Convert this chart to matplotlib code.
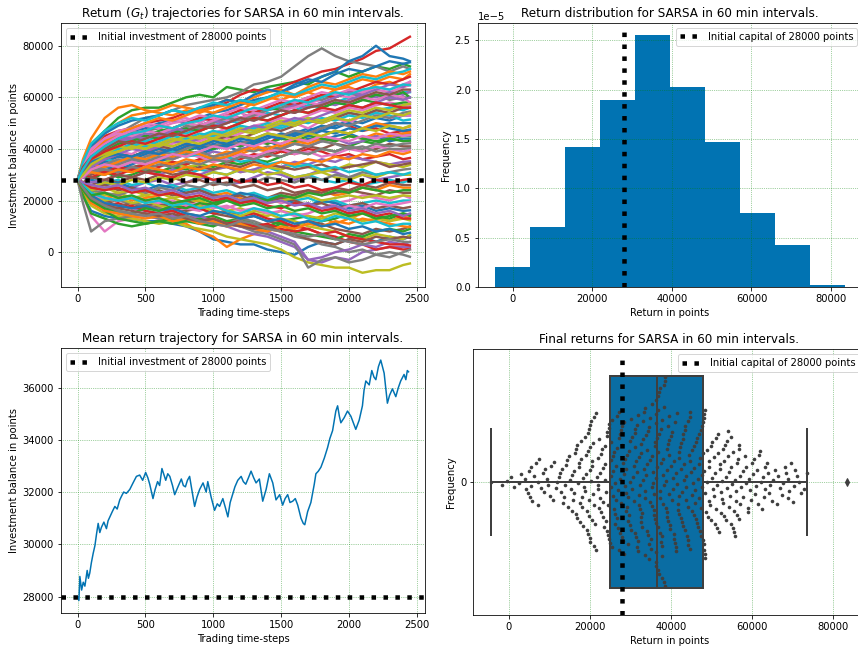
import matplotlib
matplotlib.use("Agg")
import matplotlib.pyplot as plt
import numpy as np
from matplotlib.lines import Line2D

INITIAL = 28000
BLUE = "#0173b2"
BOX_BLUE = "#0a6da3"
DARK = "#3f3f3f"

# time grid of the (sampled) trajectories
traj_steps = [0, 40, 100, 200, 300, 400, 500, 600, 700, 800, 900, 1000, 1100,
              1200, 1300, 1400, 1500, 1600, 1700, 1800, 1900, 2000, 2100, 2200,
              2300, 2400, 2450]

# balances in thousands of points
trajectories = [
    [28, 22, 16, 14, 13, 13, 12, 12, 11, 10, 8, 5, 4, 3, 3, 1, 0, -1, 2, 4, 3, 5, 6, 4, 6, 5, 6],
    [28, 25, 20, 17, 15, 14, 14, 13, 12, 11, 8, 6, 2, 5, 7, 9, 8, 10, 12, 14, 11, 13, 15, 14, 12, 14, 13],
    [28, 35, 42, 47, 52, 55, 56, 56, 58, 60, 61, 60, 64, 63, 62, 64, 65, 66, 65, 68, 70, 68, 70, 72, 71, 73, 72],
    [28, 34, 40, 45, 47, 48, 50, 51, 52, 54, 55, 56, 58, 61, 63, 62, 64, 66, 68, 70, 71, 73, 75, 78, 79, 82, 83.5],
    [28, 24, 20, 16, 15, 14, 14, 13, 14, 13, 12, 11, 10, 8, 7, 6, 4, 2, -3, -4, -2, -3, 0, 1, 2, 2, 2],
    [28, 26, 22, 20, 20, 19, 18, 19, 17, 16, 17, 15, 14, 13, 14, 12, 11, 10, 12, 11, 9, 8, 7, 9, 8, 9, 10],
    [28, 22, 14, 8, 12, 13, 14, 15, 16, 17, 16, 18, 17, 19, 20, 21, 19, 20, 18, 17, 19, 20, 22, 21, 20, 22, 21],
    [28, 33, 39, 44, 46, 49, 52, 53, 55, 57, 58, 59, 60, 62, 65, 66, 68, 72, 76, 79, 76, 74, 73, 72, 70, 72, 71],
    [28, 23, 18, 15, 14, 13, 12, 11, 12, 10, 9, 8, 6, 5, 4, 3, 1, -2, -4, -5, -6, -6, -8, -7, -7, -5, -4.4],
    [28, 29, 31, 30, 32, 33, 32, 31, 33, 30, 32, 31, 30, 32, 31, 33, 31, 29, 30, 28, 27, 28, 26, 27, 28, 27, 28],
    [28, 31, 34, 36, 35, 37, 38, 36, 37, 39, 38, 40, 41, 39, 42, 43, 41, 42, 44, 43, 45, 46, 44, 45, 43, 44, 44],
    [28, 36, 44, 52, 56, 57, 55, 54, 53, 55, 54, 56, 57, 55, 58, 60, 59, 61, 62, 60, 63, 64, 62, 65, 66, 64, 65],
    [28, 22, 15, 13, 11, 10, 11, 12, 13, 12, 11, 10, 12, 13, 11, 10, 12, 13, 14, 12, 13, 15, 16, 14, 13, 15, 14],
    [28, 30, 33, 36, 38, 37, 39, 40, 38, 41, 42, 44, 43, 45, 44, 42, 45, 47, 46, 48, 50, 49, 47, 48, 46, 47, 47],
    [28, 27, 25, 24, 26, 25, 27, 28, 26, 27, 29, 28, 26, 27, 29, 31, 30, 28, 30, 32, 31, 29, 30, 28, 29, 30, 30],
    [28, 29, 30, 32, 31, 33, 34, 35, 33, 34, 36, 35, 37, 38, 36, 38, 40, 39, 41, 40, 42, 41, 39, 40, 42, 41, 41],
    [28, 31, 35, 39, 41, 40, 42, 44, 43, 45, 44, 46, 48, 47, 49, 50, 52, 51, 53, 55, 54, 56, 55, 57, 58, 57, 57],
    [28, 19, 8, 12, 13, 14, 15, 13, 14, 15, 14, 12, 11, 13, 12, 10, 8, 6, 5, 3, 2, 0, 1, -1, 0, -1, -1.8],
    [28, 26, 24, 22, 23, 21, 22, 20, 21, 19, 20, 18, 16, 17, 15, 14, 16, 15, 14, 13, 15, 14, 12, 13, 12, 13, 12.3],
    [28, 32, 37, 40, 42, 44, 43, 45, 47, 46, 48, 49, 51, 50, 52, 54, 53, 55, 57, 56, 58, 60, 59, 61, 60, 62, 62],
    [28, 33, 38, 43, 45, 47, 48, 50, 51, 50, 52, 54, 55, 57, 59, 60, 62, 64, 66, 68, 70, 74, 76, 80, 76, 75, 74],
    [28, 25, 23, 21, 22, 20, 21, 22, 23, 21, 20, 22, 23, 21, 19, 20, 22, 21, 23, 24, 22, 23, 25, 24, 26, 25, 25],
    [28, 30, 28, 31, 29, 30, 32, 31, 33, 32, 34, 33, 35, 34, 36, 35, 37, 39, 38, 40, 39, 41, 43, 42, 44, 45, 45],
    [28, 24, 20, 18, 19, 17, 18, 17, 16, 18, 17, 15, 16, 14, 15, 13, 12, 10, 9, 7, 6, 4, 3, 1, 2, 1, 1.2],
    [28, 31, 33, 35, 34, 36, 35, 37, 36, 38, 37, 39, 38, 40, 41, 39, 40, 42, 41, 43, 44, 42, 43, 45, 44, 46, 46],
    [28, 25, 22, 20, 18, 19, 17, 18, 19, 20, 18, 19, 21, 20, 22, 21, 23, 22, 24, 23, 25, 24, 26, 25, 27, 26, 26],
    [28, 33, 39, 44, 47, 48, 50, 49, 51, 52, 50, 53, 51, 54, 52, 55, 57, 56, 58, 59, 61, 60, 62, 63, 62, 64, 64.7],
    [28, 26, 23, 21, 20, 19, 18, 17, 16, 14, 13, 12, 11, 10, 8, 7, 5, 3, -6, -3, -2, -4, -3, -1, -2, 0, 1],
    [28, 30, 32, 34, 33, 35, 34, 36, 35, 33, 34, 32, 33, 31, 32, 30, 31, 29, 30, 31, 29, 28, 30, 29, 31, 30, 30],
    [28, 30, 29, 27, 28, 26, 27, 25, 26, 24, 25, 23, 24, 22, 23, 21, 22, 20, 21, 19, 20, 18, 19, 20, 19, 20, 20],
    [28, 29, 31, 33, 32, 34, 36, 35, 37, 39, 38, 40, 42, 41, 43, 45, 44, 46, 48, 47, 49, 51, 50, 52, 51, 53, 53],
    [28, 34, 40, 46, 50, 53, 54, 55, 57, 56, 55, 57, 59, 58, 60, 62, 63, 61, 64, 66, 65, 67, 69, 68, 70, 69, 70],
    [28, 26, 21, 16, 13, 12, 11, 12, 11, 12, 13, 14, 12, 11, 10, 9, 11, 8, 7, 6, 5, 7, 6, 8, 9, 8, 9],
    [28, 30, 32, 31, 33, 32, 34, 33, 35, 34, 36, 37, 35, 36, 38, 37, 39, 38, 40, 39, 37, 38, 36, 37, 38, 36, 36.5],
    [28, 25, 21, 19, 18, 17, 16, 15, 14, 13, 14, 12, 11, 10, 9, 8, 6, 4, -3, -2, 0, 1, 3, 2, 4, 3, 4],
    [28, 27, 26, 28, 27, 29, 28, 30, 29, 27, 28, 26, 27, 25, 26, 24, 25, 23, 24, 22, 23, 24, 23, 22, 24, 23, 23],
    [28, 31, 34, 37, 39, 38, 41, 40, 42, 44, 43, 45, 44, 46, 48, 47, 49, 50, 48, 51, 52, 50, 53, 54, 52, 53, 52.9],
    [28, 32, 36, 40, 43, 45, 47, 48, 46, 49, 48, 50, 52, 51, 53, 55, 56, 58, 60, 59, 61, 62, 60, 61, 59, 60, 60],
    [28, 25, 22, 20, 21, 19, 20, 18, 17, 19, 18, 16, 15, 14, 16, 15, 13, 12, 10, 9, 8, 6, 5, 7, 6, 5, 6.6],
    [28, 33, 37, 39, 40, 41, 43, 42, 44, 43, 45, 47, 46, 48, 47, 49, 48, 50, 52, 51, 53, 54, 53, 55, 56, 55, 56],
    [28, 27, 28, 26, 27, 25, 24, 26, 25, 23, 24, 22, 21, 23, 22, 20, 21, 19, 18, 20, 19, 17, 18, 16, 17, 16, 16.2],
    [28, 29, 31, 30, 32, 31, 33, 35, 34, 36, 35, 37, 39, 38, 40, 39, 41, 43, 42, 44, 43, 45, 44, 46, 45, 46, 46.4],
    [28, 31, 34, 36, 38, 37, 39, 38, 40, 39, 41, 40, 42, 41, 43, 42, 44, 43, 45, 44, 43, 45, 44, 43, 44, 43, 43.2],
    [28, 24, 20, 18, 17, 18, 16, 15, 16, 14, 12, 13, 11, 12, 10, 11, 9, 8, 9, 7, 8, 6, 5, 4, 3, 3, 2.6],
    [28, 29, 27, 28, 30, 29, 31, 30, 32, 31, 30, 32, 33, 31, 32, 34, 33, 35, 34, 36, 35, 37, 36, 35, 34, 35, 35.2],
    [28, 27, 25, 26, 24, 25, 23, 24, 22, 23, 24, 22, 21, 22, 20, 19, 21, 20, 18, 19, 17, 18, 19, 17, 18, 17, 17.5],
    [28, 30, 33, 35, 37, 36, 38, 37, 36, 38, 37, 35, 36, 38, 37, 39, 40, 38, 39, 37, 38, 40, 39, 41, 40, 39, 39.6],
    [28, 26, 24, 23, 22, 24, 23, 25, 24, 26, 25, 27, 26, 28, 27, 29, 28, 27, 29, 28, 30, 29, 31, 30, 31, 32, 32.3],
    [28, 27, 25, 27, 26, 28, 27, 29, 28, 30, 29, 31, 30, 32, 31, 33, 32, 34, 33, 31, 32, 34, 33, 35, 34, 33, 33.8],
    [28, 32, 35, 38, 40, 42, 41, 43, 45, 44, 46, 45, 47, 49, 48, 50, 49, 51, 50, 52, 51, 53, 52, 54, 53, 51, 51.4],
    [28, 31, 33, 35, 37, 36, 38, 40, 39, 41, 40, 42, 41, 43, 42, 44, 46, 45, 47, 49, 48, 50, 48, 49, 50, 50, 50],
    [28, 24, 19, 16, 15, 14, 13, 14, 12, 13, 11, 12, 10, 11, 9, 8, 10, 9, 11, 10, 12, 11, 13, 12, 11, 10, 9.7],
    [28, 33, 38, 42, 44, 46, 45, 47, 48, 50, 49, 51, 53, 52, 54, 56, 55, 57, 58, 56, 58, 57, 59, 58, 57, 58, 58],
    [28, 30, 29, 31, 30, 32, 31, 30, 29, 31, 30, 28, 29, 27, 28, 26, 27, 25, 26, 24, 25, 27, 26, 28, 27, 28, 28.4],
    [28, 33, 38, 41, 43, 44, 46, 45, 47, 48, 47, 49, 50, 52, 51, 53, 55, 54, 56, 58, 57, 59, 61, 60, 62, 61, 62.2],
    [28, 27, 29, 28, 30, 29, 31, 32, 30, 31, 33, 32, 34, 33, 35, 34, 33, 32, 33, 34, 32, 33, 34, 35, 33, 34, 34.5],
    [28, 25, 22, 21, 20, 21, 20, 19, 20, 18, 19, 17, 18, 16, 17, 15, 16, 14, 15, 17, 16, 18, 17, 19, 18, 19, 19.5],
    [28, 30, 31, 33, 34, 36, 35, 37, 36, 38, 39, 37, 38, 40, 39, 41, 40, 42, 41, 43, 42, 40, 41, 39, 40, 40, 40.4],
    [28, 26, 24, 25, 23, 24, 22, 23, 21, 22, 20, 21, 22, 20, 21, 19, 20, 21, 22, 20, 21, 22, 21, 22, 21, 22, 21.8],
    [28, 31, 34, 36, 35, 37, 36, 38, 39, 37, 38, 36, 37, 35, 36, 34, 35, 33, 34, 32, 33, 31, 32, 30, 31, 30, 30.8],
    [28, 34, 41, 46, 49, 51, 52, 53, 55, 54, 56, 57, 59, 58, 61, 63, 62, 65, 67, 66, 69, 71, 70, 72, 74, 73, 73.6],
    [28, 32, 38, 43, 46, 48, 50, 52, 51, 53, 55, 54, 56, 58, 57, 59, 61, 60, 62, 64, 63, 65, 67, 66, 68, 67, 69],
    [28, 30, 35, 39, 42, 43, 45, 44, 46, 48, 47, 49, 48, 50, 52, 51, 53, 55, 54, 56, 58, 57, 59, 61, 60, 62, 60],
    [28, 33, 37, 42, 44, 46, 47, 49, 48, 50, 52, 51, 53, 55, 54, 56, 58, 57, 59, 61, 60, 62, 64, 66, 65, 67, 68],
    [28, 31, 36, 40, 43, 45, 44, 46, 48, 47, 49, 51, 50, 52, 54, 53, 55, 57, 56, 58, 60, 62, 61, 63, 65, 64, 66],
    [28, 29, 33, 36, 38, 37, 39, 41, 40, 42, 41, 43, 45, 44, 46, 48, 47, 49, 51, 50, 52, 54, 53, 55, 54, 56, 56],
    [28, 34, 40, 44, 46, 45, 47, 46, 48, 50, 49, 51, 53, 52, 54, 53, 55, 56, 58, 57, 59, 58, 60, 59, 61, 60, 58],
    [28, 30, 32, 34, 36, 35, 37, 39, 38, 40, 42, 41, 43, 42, 44, 46, 45, 47, 46, 48, 50, 49, 51, 53, 52, 54, 54.5],
    [28, 32, 36, 38, 39, 41, 40, 42, 44, 43, 45, 44, 46, 48, 47, 49, 51, 50, 52, 51, 53, 55, 54, 56, 55, 57, 57.5],
    [28, 35, 42, 47, 50, 52, 51, 53, 55, 54, 56, 58, 57, 59, 58, 60, 62, 61, 63, 65, 64, 66, 68, 67, 69, 70, 71],
    [28, 26, 22, 19, 18, 17, 18, 16, 17, 15, 14, 16, 15, 13, 14, 12, 13, 11, 12, 10, 11, 9, 10, 8, 9, 7, 7.5],
    [28, 31, 34, 33, 35, 37, 36, 38, 37, 39, 38, 36, 37, 39, 41, 40, 42, 44, 43, 45, 47, 46, 48, 50, 49, 48, 48.7],
    [28, 24, 20, 17, 16, 15, 17, 16, 18, 17, 19, 18, 20, 19, 21, 20, 22, 21, 23, 22, 24, 23, 25, 24, 23, 24, 24],
    [28, 27, 25, 24, 25, 23, 24, 22, 23, 21, 22, 20, 21, 19, 20, 18, 17, 19, 18, 16, 17, 15, 16, 14, 15, 13, 13],
    [28, 30, 33, 36, 38, 40, 39, 41, 43, 42, 44, 46, 45, 47, 49, 48, 50, 52, 51, 53, 55, 57, 56, 58, 60, 59, 60],
    [28, 25, 21, 18, 17, 16, 15, 14, 15, 13, 12, 13, 11, 10, 9, 10, 8, 7, 5, 4, 3, 5, 4, 6, 5, 6, 5.5],
    [28, 33, 38, 42, 45, 47, 49, 48, 50, 51, 53, 52, 54, 56, 55, 57, 59, 58, 60, 62, 61, 63, 62, 64, 63, 65, 66],
    [28, 29, 31, 32, 31, 33, 32, 34, 33, 35, 34, 36, 35, 37, 36, 38, 37, 39, 38, 40, 39, 41, 40, 42, 41, 42, 42.2],
    [28, 31, 35, 38, 41, 40, 42, 41, 43, 45, 44, 46, 45, 47, 46, 48, 50, 49, 51, 50, 52, 51, 53, 52, 54, 53, 54],
    [28, 26, 23, 21, 20, 21, 19, 20, 18, 19, 17, 18, 16, 15, 17, 16, 14, 15, 13, 12, 14, 13, 11, 12, 10, 11, 11],
    [28, 31, 35, 37, 38, 37, 39, 38, 40, 42, 41, 43, 42, 44, 43, 45, 44, 46, 45, 47, 46, 48, 47, 49, 48, 47, 47.5],
    [28, 30, 31, 30, 32, 31, 33, 32, 31, 33, 32, 34, 33, 32, 34, 33, 35, 34, 36, 35, 37, 36, 38, 37, 39, 38, 38.8],
    [28, 25, 22, 23, 21, 22, 20, 21, 19, 20, 21, 19, 20, 18, 19, 17, 18, 16, 17, 15, 16, 14, 15, 13, 14, 15, 14.5],
    [28, 32, 36, 39, 41, 43, 42, 44, 46, 45, 47, 49, 48, 50, 52, 51, 53, 55, 54, 56, 55, 57, 56, 58, 57, 56, 56],
    [28, 27, 26, 25, 26, 24, 25, 23, 24, 22, 23, 21, 22, 20, 21, 19, 20, 18, 19, 17, 18, 16, 17, 15, 16, 14, 15],
    [28, 33, 37, 40, 43, 42, 44, 46, 45, 47, 49, 48, 50, 52, 51, 53, 55, 54, 56, 57, 59, 58, 60, 62, 61, 63, 63],
    [28, 29, 32, 34, 33, 35, 34, 36, 38, 37, 39, 41, 40, 42, 41, 43, 42, 44, 43, 45, 44, 43, 45, 44, 46, 45, 45.3],
    [28, 25, 21, 18, 16, 15, 14, 15, 13, 14, 12, 11, 10, 12, 11, 9, 8, 7, 6, 7, 5, 4, 3, 4, 5, 4, 3.9],
    [28, 30, 34, 37, 39, 41, 40, 42, 41, 43, 42, 44, 43, 45, 44, 46, 45, 44, 46, 45, 47, 46, 48, 47, 49, 48, 49],
    [28, 32, 37, 41, 44, 46, 47, 49, 48, 50, 51, 53, 52, 54, 56, 55, 57, 59, 58, 60, 62, 61, 63, 64, 63, 65, 64.7],
]

# mean return trajectory (bottom-left panel)
mean_steps = [0, 10, 17, 30, 42, 54, 71, 80, 90, 102, 115, 128, 140, 152, 164,
              176, 194, 213, 225, 238, 256, 275, 292, 311, 325, 340, 360, 385,
              409, 434, 458, 480, 502, 518, 532, 556, 572, 590, 605, 622, 650,
              665, 680, 700, 716, 740, 765, 780, 795, 810, 826, 845, 863, 880,
              900, 925, 948, 960, 985, 1010, 1030, 1047, 1071, 1090, 1108, 1125,
              1145, 1160, 1181, 1206, 1222, 1240, 1260, 1279, 1298, 1316, 1340,
              1365, 1390, 1414, 1439, 1463, 1490, 1512, 1530, 1549, 1566, 1586,
              1605, 1623, 1647, 1664, 1675, 1696, 1720, 1745, 1757, 1775, 1794,
              1819, 1843, 1860, 1880, 1904, 1917, 1930, 1941, 1966, 1990, 2015,
              2033, 2051, 2076, 2100, 2112, 2125, 2150, 2169, 2185, 2199, 2218,
              2235, 2260, 2284, 2300, 2321, 2346, 2365, 2382, 2407, 2420, 2431,
              2440]
mean_values = [28000, 27850, 28770, 28250, 28550, 28400, 29000, 28700, 28900,
               29300, 29650, 29950, 30400, 30800, 30450, 30650, 30850, 30600,
               30900, 31050, 31250, 31450, 31350, 31700, 31850, 32000, 31950,
               32100, 32350, 32600, 32650, 32450, 32750, 32550, 32300, 31750,
               32100, 32400, 32250, 32900, 32450, 32700, 32600, 32250, 31900,
               32200, 32500, 32250, 32200, 32450, 32600, 32000, 31450, 31800,
               32100, 32350, 32000, 32400, 31800, 31300, 31550, 31450, 31750,
               31400, 31050, 31600, 31950, 32200, 32450, 32600, 32400, 32300,
               32550, 32800, 32550, 32350, 32500, 31650, 32100, 32700, 32350,
               31700, 31900, 31500, 31750, 31900, 31600, 31650, 31750, 31500,
               31000, 30800, 30750, 31250, 31600, 32300, 32700, 32800, 32950,
               33300, 33700, 34050, 34350, 35100, 35300, 34900, 34650, 34850,
               35100, 34900, 34650, 34400, 34750, 35300, 35900, 36250, 36100,
               36650, 36400, 36300, 36800, 37050, 36550, 35400, 35700, 35950,
               35650, 36000, 36250, 36500, 36300, 36650, 36600]

# final returns of all episodes, in hundreds of points
final_returns = [
    -44, -18, -5, 6, 12, 26, 31, 39, 42,
    46, 49, 52, 55, 55, 58, 63, 66, 71, 72, 74, 80, 83, 87, 88, 93, 97, 101,
    104, 110, 111, 116, 119, 123, 126, 128, 131,
    133, 136, 138, 141, 144, 145, 148, 151, 153, 155, 156, 158, 160, 161, 163,
    165, 166, 168, 169, 171, 172, 173, 175, 176, 178, 179, 180, 181, 183, 184,
    186, 187, 188, 190, 191, 192, 193, 194, 195, 196, 197, 197, 198, 199, 199,
    200, 200, 201, 202, 203, 204, 205, 206, 207, 208, 209, 210, 211, 213, 214,
    215, 217, 219,
    220, 221, 222, 223, 224, 226, 227, 228, 229, 231, 232, 233, 234, 236, 237,
    238, 239, 240, 241, 242, 243, 244, 245, 246, 247, 248, 249,
    251, 252, 253, 253, 254, 255, 256, 257, 258, 259, 260, 261, 262, 263, 264,
    265, 266, 267, 268, 269, 270, 271, 272, 272, 273, 274, 275, 276, 277, 278,
    279, 280, 281, 282, 283, 284, 285, 286, 287, 288, 289, 290, 291, 292, 293,
    294, 295, 296, 297, 298, 299, 300, 301, 302, 303, 305, 307,
    308, 309, 310, 311, 311, 312, 313, 314, 315, 316, 317, 318, 318, 319, 320,
    321, 322, 323, 324, 325, 326, 327, 327, 328, 329, 330, 331, 332, 333, 334,
    335, 336, 336, 337, 338, 339, 340, 341, 342, 343, 344, 345, 345, 346, 347,
    348, 349, 350, 351, 352, 353, 354, 354, 355, 356, 357, 358, 359, 360, 361,
    361, 362, 362, 363, 363, 364, 364, 364, 364,
    366, 366, 367, 367, 368, 369, 369, 370, 371, 371, 372, 373, 373, 374, 375,
    375, 376, 377, 377, 378, 379, 379, 380, 381, 381, 382, 383, 384, 384, 385,
    386, 386, 387, 388, 389, 389, 390, 391, 392, 392, 393, 394, 394, 395,
    396, 397, 397, 399, 401, 402, 402, 404, 405, 407, 408, 408, 409, 411, 412,
    413, 413, 414, 416, 418, 418, 419, 420, 420, 421, 423, 424, 424, 425, 427,
    428, 429, 429, 430, 432, 433, 434, 434, 435, 437, 438, 438, 440, 441, 442,
    443, 443, 445, 446, 447, 448, 448, 450, 451, 452, 453, 455, 456, 457, 457,
    459, 460, 461, 462, 463, 465, 466, 467, 468, 469, 470, 471, 472, 473, 474,
    475, 476, 476, 477, 479, 479, 479, 481, 481, 482, 482, 482, 483, 483, 483,
    485, 487, 488, 490, 491, 493, 494, 495, 497, 498, 500, 501, 502, 504, 505,
    506, 508, 509, 510, 512, 513, 514, 516, 517, 518, 520, 521, 523, 524, 525,
    527, 528, 529, 531, 532, 533, 535, 536, 538, 539, 540, 541, 543, 544, 545,
    547, 548, 549, 551, 552, 553, 555, 556, 557, 559, 560, 561, 563, 564, 566,
    567, 568, 569, 570, 571,
    574, 577, 579, 582, 584, 586, 589, 591, 593, 596, 598, 601, 603, 605, 607,
    610, 612, 614, 617, 619, 621, 624, 626, 629, 631, 633, 636, 639, 642, 645,
    649, 653, 657,
    661, 665, 669, 673, 677, 681, 685, 688, 689, 692, 696, 700, 703, 707, 711,
    716, 722, 729, 736,
    835,
]


def beeswarm(xs, sx, sy):
    # simple swarm layout: ellipse collision, sx/sy are the spacing in pixels
    order = np.argsort(xs, kind="stable")
    px, py = [], []
    offs = np.zeros(len(xs))
    for i in order:
        x = xs[i]
        best = 0.0
        if px:
            ax_ = np.array(px)
            ay_ = np.array(py)
            dx = (ax_ - x) / sx
            near = np.abs(dx) < 1
            dxn, yn = dx[near], ay_[near]
            cands = [0.0]
            for a, b in zip(dxn, yn):
                h = np.sqrt(1 - a * a) * sy
                cands += [b + h, b - h]
            cands.sort(key=abs)
            for c in cands:
                if np.all(dxn ** 2 + ((yn - c) / sy) ** 2 >= 0.999):
                    best = c
                    break
        offs[i] = best
        px.append(x)
        py.append(best)
    return offs


def style_axes(ax):
    ax.grid(True, color="green", linestyle=":", linewidth=0.7, alpha=0.7)


def init_handle():
    return Line2D([], [], color="black", linestyle=":", linewidth=4.5)


W, H = 858, 646
fig = plt.figure(figsize=(W / 72, H / 72), dpi=72)

# top-left: all trajectories
ax0 = fig.add_axes([0.0711, 0.5562, 0.4242, 0.4077])
steps = np.array(traj_steps)
for tr in trajectories:
    ax0.plot(steps, np.array(tr) * 1000, linewidth=2.4)
ax0.axhline(INITIAL, color="black", linestyle=":", linewidth=4.5)
ax0.set_xlim(-122, 2561)
ax0.set_ylim(-13400, 88700)
ax0.set_title(r"Return ($G_t$) trajectories for SARSA in 60 min intervals.")
ax0.set_xlabel("Trading time-steps")
ax0.set_ylabel("Investment balance in points")
ax0.legend([init_handle()], ["Initial investment of 28000 points"], loc="upper left")
style_axes(ax0)

# top-right: histogram of final returns
finals = np.array(final_returns) * 100.0
ax1 = fig.add_axes([0.5568, 0.5557, 0.4484, 0.4092])
ax1.hist(finals, bins=10, density=True, color=BLUE)
ax1.axvline(INITIAL, ymax=0.965, color="black", linestyle=":", linewidth=4.5)
ax1.set_title("Return distribution for SARSA in 60 min intervals.")
ax1.set_xlabel("Return in points")
ax1.set_ylabel("Frequency")
ax1.legend([init_handle()], ["Initial capital of 28000 points"], loc="upper right")
style_axes(ax1)

# bottom-left: mean trajectory
ax2 = fig.add_axes([0.0711, 0.0506, 0.4242, 0.4102])
ax2.plot(mean_steps, mean_values, color=BLUE, linewidth=1.5)
ax2.axhline(INITIAL, color="black", linestyle=":", linewidth=4.5)
ax2.set_xlim(-122, 2561)
ax2.set_ylim(27360, 37500)
ax2.set_title("Mean return trajectory for SARSA in 60 min intervals.")
ax2.set_xlabel("Trading time-steps")
ax2.set_ylabel("Investment balance in points")
ax2.legend([init_handle()], ["Initial investment of 28000 points"], loc="upper left")
style_axes(ax2)

# bottom-right: box + swarm of final returns
ax3 = fig.add_axes([0.5516, 0.048, 0.4566, 0.4113])
ax3.boxplot(finals, vert=False, positions=[0], widths=0.8, patch_artist=True,
            boxprops=dict(facecolor=BOX_BLUE, edgecolor=DARK, linewidth=2),
            medianprops=dict(color=DARK, linewidth=2),
            whiskerprops=dict(color=DARK, linewidth=2),
            capprops=dict(color=DARK, linewidth=2),
            flierprops=dict(marker="d", markerfacecolor=DARK, markeredgecolor=DARK,
                            markersize=5))
ax3.set_xlim(-8800, 87900)
ax3.set_ylim(0.5, -0.5)
fig.canvas.draw()
bbox = ax3.get_window_extent()
px_per_x = bbox.width / (87900 + 8800)
px_per_y = bbox.height
offs = beeswarm(finals * px_per_x, 14.5, 4.0)
ax3.scatter(finals, offs / px_per_y, s=13, color=DARK, zorder=3, linewidths=0)
ax3.axvline(INITIAL, ymax=0.96, color="black", linestyle=":", linewidth=4.5, zorder=4)
ax3.set_yticks([0])
ax3.set_yticklabels(["0"])
ax3.set_title("Final returns for SARSA in 60 min intervals.")
ax3.set_xlabel("Return in points")
ax3.set_ylabel("Frequency")
ax3.legend([init_handle()], ["Initial capital of 28000 points"], loc="upper right")
style_axes(ax3)

fig.savefig("out.png", dpi=72)
